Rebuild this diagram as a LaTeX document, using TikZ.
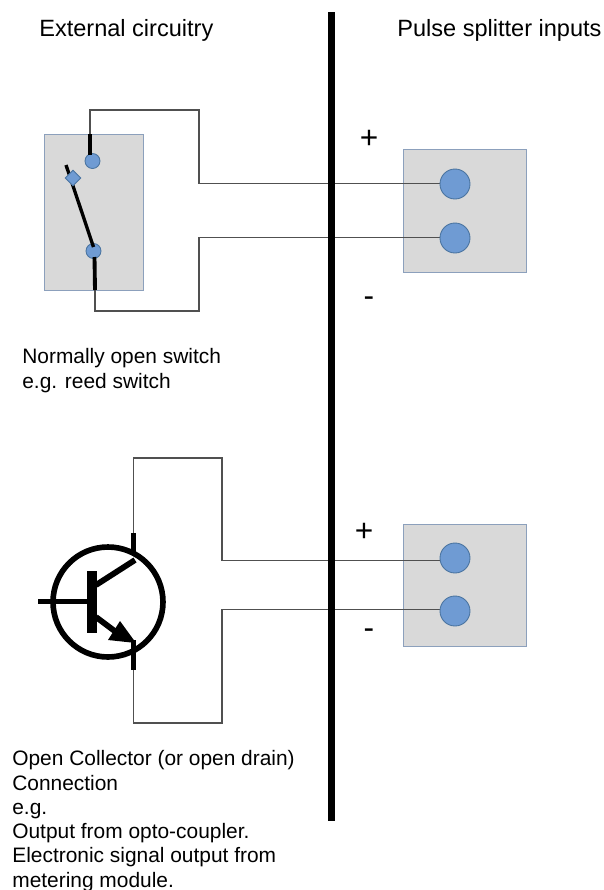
\documentclass[tikz,border=0pt]{standalone}
\usepackage{fontspec}
\setmainfont{Liberation Sans}
\usetikzlibrary{shapes.geometric}
\definecolor{boxgrey}{HTML}{D9D9D9}
\definecolor{boxline}{HTML}{8CA0BC}
\definecolor{padblue}{HTML}{6F9BD3}
\definecolor{padline}{HTML}{4A74A0}
\definecolor{wiregrey}{HTML}{505050}
\tikzset{
	housing/.style={draw=boxline, fill=boxgrey, line width=0.6pt, inner sep=0pt, anchor=north west},
	pad/.style={draw=padline, fill=padblue, circle, line width=0.5pt, inner sep=0pt},
	wire/.style={draw=wiregrey, line width=0.65pt},
	heavy/.style={line width=2.2pt},
	caption/.style={anchor=base west, align=left, inner sep=0pt, font=\fontsize{11.9pt}{13.8pt}\selectfont},
	heading/.style={anchor=base west, inner sep=0pt, font=\fontsize{13.4pt}{16pt}\selectfont},
	polarity/.style={font=\fontsize{18pt}{18pt}\selectfont, inner sep=0pt}
}

\begin{document}
\begin{tikzpicture}[x=0.02cm, y=-0.02cm]

	\useasboundingbox (0,0) rectangle (604,890);

	% housings
	\node[housing, minimum width=1.98cm, minimum height=3.12cm] (switchbox) at (44,134) {};
	\node[housing, minimum width=2.46cm, minimum height=2.46cm] (inbox_a) at (403,149) {};
	\node[housing, minimum width=2.46cm, minimum height=2.44cm] (inbox_b) at (403,524) {};

	% wire ends
	\coordinate (sw_top) at (90,134);
	\coordinate (sw_bot) at (95,290);
	\coordinate (q_top) at (133.5,533);
	\coordinate (q_bot) at (133.5,670);

	% draw wires
	\draw[wire] (sw_top) |- (199,110) |- (441,183.5) coordinate (in_a);
	\draw[wire] (sw_bot) |- (199,311) |- (441,237.5) coordinate (in_b);
	\draw[wire] (q_top) |- (222,458) |- (441,560.5) coordinate (in_c);
	\draw[wire] (q_bot) |- (222,723) |- (441,609.5) coordinate (in_d);

	% input pads
	\foreach \s/\y in {a/184,b/238,c/558,d/611}
	{
		\node[pad, minimum size=0.6cm] (pad_\s) at (455,\y) {};
	}

	% divider
	\coordinate (div_top) at (331.5,12);
	\coordinate (div_bot) at (331.5,821);
	\draw[line width=3.5pt] (div_top) -- (div_bot);

	% switch
	\node[pad, minimum size=0.3cm] (contact_a) at (92.5,161) {};
	\node[pad, minimum size=0.3cm] (contact_b) at (93.5,251) {};
	\draw[heavy] (sw_top) -- (90,155);
	\draw[heavy] (sw_bot) -- (94.5,257);
	\coordinate (lever_end) at (66,165);
	\draw[line width=1.9pt] (lever_end) -- (93.5,247);
	\node[pad, diamond, minimum size=0.32cm] (pivot) at (73,178) {};

	% transistor
	\node[draw, circle, line width=3.2pt, minimum size=2.2cm, inner sep=0pt] (q_ring) at (108,602) {};
	\node[fill, minimum width=0.2cm, minimum height=1.24cm, inner sep=0pt] (q_base) at (92,601.5) {};
	\coordinate (q_in) at (38,601.5);
	\draw[line width=3.3pt] (q_in) -- (q_base);
	\draw[line width=3.3pt] (96,585) -- (135,560);
	\draw[line width=3.3pt] (96,617) -- (120,635);
	\fill (136,643) -- (108,640) -- (120,621) -- cycle;
	\draw[line width=3.3pt] (q_top) -- (133.5,552);
	\draw[line width=3.3pt] (133.5,640) -- (q_bot);

	% labels
	\node[heading] (head_l) at (39,36) {External circuitry};
	\node[heading] (head_r) at (397,36) {Pulse splitter inputs};
	\node[polarity] (plus_a) at (369,139) {+};
	\node[polarity] (minus_a) at (369,302) {-};
	\node[polarity] (plus_b) at (364,532) {+};
	\node[polarity] (minus_b) at (369,634) {-};
	\node[caption] (note_a) at (22,388) {Normally open switch\\e.g. reed switch};
	\node[caption] (note_b) at (12,887) {Open Collector (or open drain)\\Connection\\e.g.\\Output from opto-coupler.\\Electronic signal output from\\metering module.};

\end{tikzpicture}
\end{document}
